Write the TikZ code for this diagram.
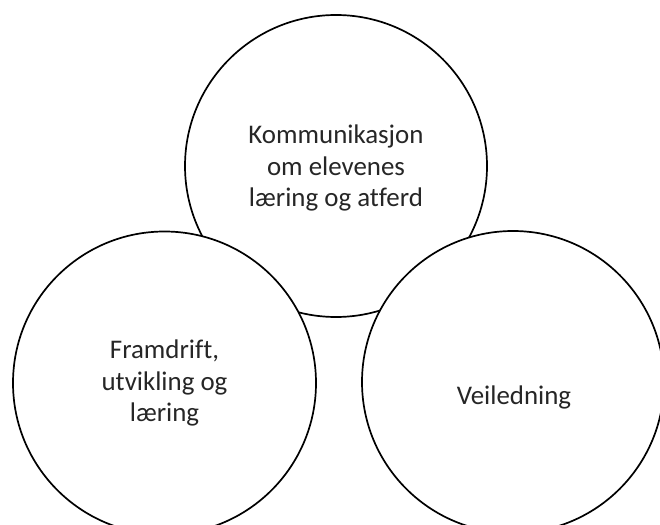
\documentclass[tikz,border=0pt]{standalone}
\usepackage{fontspec}
\setmainfont{Carlito}[Ligatures=NoCommon]

\begin{document}
\begin{tikzpicture}[x=1bp, y=-1bp,
	ring/.style={shape=circle, draw=black, line width=1.7bp, fill=white, inner sep=0pt, minimum size=#1},
	ring/.default=302bp,
	ringtext/.style={anchor=center, align=center, text=black!85, inner sep=0pt, font=\fontsize{27}{31.7}\selectfont}]
	\useasboundingbox (0, 0) rectangle (660, 525);
	% Circles and labels:
	\node[ring](kommunikasjon) at (336, 166){} node[ringtext](kommunikasjontext) at (336, 168){Kommunikasjon\\om elevenes\\læring og atferd};
	\node[ring=303bp](framdrift) at (164.5, 383){} node[ringtext](framdrifttext) at (164.5, 383){Framdrift,\\utvikling og\\læring};
	\node[ring](veiledning) at (513, 382){} node[ringtext](veiledningtext) at (514, 397){Veiledning};
\end{tikzpicture}
\end{document}
